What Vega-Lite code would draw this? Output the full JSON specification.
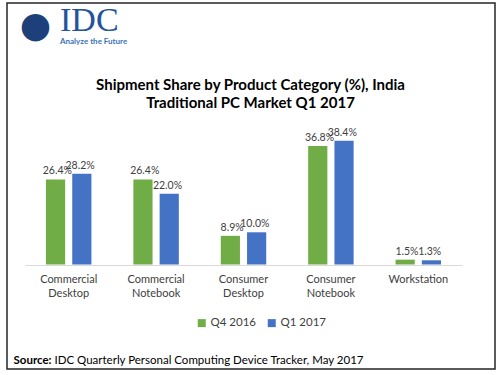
{
  "$schema": "https://vega.github.io/schema/vega-lite/v6.json",
  "width": 488,
  "height": 366,
  "padding": {"left": 7, "top": 3, "right": 5, "bottom": 6},
  "background": "white",
  "config": {"view": {"stroke": "#262626", "strokeWidth": 1.5}, "font": "Lato"},
  "title": {
    "text": "IDC",
    "subtitle": "Analyze the Future",
    "anchor": "start",
    "frame": "group",
    "orient": "top",
    "offset": -43,
    "dx": 53,
    "font": "Liberation Serif",
    "fontSize": 34,
    "fontWeight": "normal",
    "color": "#23539b",
    "subtitleFont": "Lato",
    "subtitleFontSize": 8,
    "subtitleFontWeight": "bold",
    "subtitleColor": "#3b73b9",
    "subtitlePadding": 0
  },
  "data": {
    "values": [
      {"category": "Commercial Desktop", "period": "Q4 2016", "share": 0.264},
      {"category": "Commercial Desktop", "period": "Q1 2017", "share": 0.282},
      {"category": "Commercial Notebook", "period": "Q4 2016", "share": 0.264},
      {"category": "Commercial Notebook", "period": "Q1 2017", "share": 0.220},
      {"category": "Consumer Desktop", "period": "Q4 2016", "share": 0.089},
      {"category": "Consumer Desktop", "period": "Q1 2017", "share": 0.100},
      {"category": "Consumer Notebook", "period": "Q4 2016", "share": 0.368},
      {"category": "Consumer Notebook", "period": "Q1 2017", "share": 0.384},
      {"category": "Workstation", "period": "Q4 2016", "share": 0.015},
      {"category": "Workstation", "period": "Q1 2017", "share": 0.013}
    ]
  },
  "layer": [
    {
      "mark": {"type": "bar"},
      "encoding": {
        "x": {
          "field": "category", "type": "nominal", "sort": null,
          "scale": {"range": [18, 455], "paddingInner": 0.48, "paddingOuter": 0.24},
          "axis": {
            "orient": "bottom", "offset": -104, "domainColor": "#d9d9d9", "domainWidth": 1,
            "ticks": false, "grid": false, "labelAngle": 0,
            "labelExpr": "split(datum.label, ' ')",
            "labelFontSize": 11, "labelColor": "#404040", "labelPadding": 8, "labelLineHeight": 14,
            "title": "Source:", "titleFontWeight": "bold", "titleFontSize": 11.5, "titleColor": "#000000",
            "titleX": 6, "titleY": 98.5, "titleAlign": "left", "titleBaseline": "alphabetic", "titleAnchor": "start"
          }
        },
        "xOffset": {"field": "period", "type": "nominal", "sort": ["Q4 2016", "Q1 2017"], "scale": {"paddingInner": 0.27}},
        "y": {
          "field": "share", "type": "quantitative",
          "scale": {"domain": [-0.3245, 0.812], "nice": false, "zero": false},
          "axis": {
            "orient": "left", "labels": false, "ticks": false, "domain": false, "grid": false,
            "title": ["Shipment Share by Product Category (%), India", "Traditional PC Market Q1 2017"],
            "titleAngle": 0, "titleX": 243, "titleY": 86, "titleAlign": "center", "titleBaseline": "alphabetic",
            "titleFontSize": 15, "titleFontWeight": "bold", "titleColor": "#000000", "titleLineHeight": 18
          }
        },
        "y2": {"datum": 0},
        "color": {
          "field": "period", "type": "nominal",
          "scale": {"domain": ["Q4 2016", "Q1 2017"], "range": ["#70AD47", "#4472C4"]},
          "legend": {
            "orient": "none", "legendX": 189, "legendY": 314, "direction": "horizontal", "title": null,
            "symbolType": "square", "symbolSize": 64, "symbolStrokeWidth": 0, "labelFontSize": 11.5,
            "labelColor": "#404040", "labelOffset": 3, "columnPadding": 10, "padding": 0
          }
        }
      }
    },
    {
      "mark": {"type": "text", "baseline": "alphabetic", "dy": -5, "fontSize": 10.5, "color": "#404040"},
      "encoding": {
        "x": {
          "field": "category", "type": "nominal", "sort": null,
          "scale": {"range": [18, 455], "paddingInner": 0.48, "paddingOuter": 0.24},
          "axis": {
            "orient": "top", "labels": false, "ticks": false, "domain": false, "grid": false,
            "title": "IDC Quarterly Personal Computing Device Tracker, May 2017",
            "titleFontWeight": "normal", "titleFontSize": 11.5, "titleColor": "#000000",
            "titleX": 47, "titleY": 360, "titleAlign": "left", "titleBaseline": "alphabetic", "titleAnchor": "start"
          }
        },
        "xOffset": {"field": "period", "type": "nominal", "sort": ["Q4 2016", "Q1 2017"], "scale": {"paddingInner": 0.27}},
        "y": {
          "field": "share", "type": "quantitative",
          "scale": {"domain": [-0.3245, 0.812], "nice": false, "zero": false},
          "axis": {
            "orient": "right", "labels": false, "ticks": false, "domain": false, "grid": false,
            "title": "●", "titleFont": "DejaVu Sans", "titleFontSize": 36, "titleColor": "#1d3f7a",
            "titleAngle": 0, "titleX": -460, "titleY": 22, "titleAlign": "center", "titleBaseline": "middle"
          }
        },
        "text": {"field": "share", "type": "quantitative", "format": ".1%"}
      }
    }
  ],
  "resolve": {
    "scale": {"x": "independent", "y": "independent", "xOffset": "independent"},
    "axis": {"x": "independent", "y": "independent"}
  }
}
